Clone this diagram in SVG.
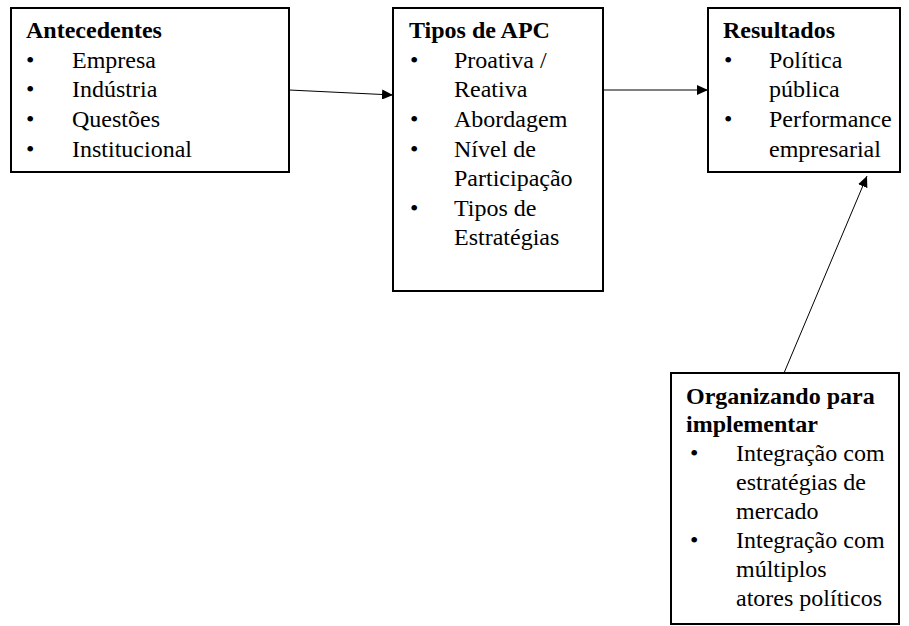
<svg xmlns="http://www.w3.org/2000/svg" width="909" height="626" viewBox="0 0 909 626">
<style>
.box{fill:#fff;stroke:#000;stroke-width:2}
text{font-family:"Liberation Serif","Times New Roman",serif;font-size:24px;fill:#000}
.h{font-weight:bold}
.conn{stroke:#000;stroke-width:1;fill:none;marker-end:url(#ah)}
</style>
<defs>
<marker id="ah" markerUnits="userSpaceOnUse" markerWidth="12" markerHeight="10" refX="11" refY="5" orient="auto">
<path d="M0,0 L11,5 L0,10 Z" fill="#000"/>
</marker>
</defs>
<rect width="909" height="626" fill="#fff"/>
<g id="antecedentes">
<rect class="box" x="11" y="8" width="278" height="164"/>
<text class="h" x="26" y="38">Antecedentes</text>
<text x="26" y="68">•</text><text x="72" y="68">Empresa</text>
<text x="26" y="97">•</text><text x="72" y="97">Indústria</text>
<text x="26" y="127">•</text><text x="72" y="127">Questões</text>
<text x="26" y="157">•</text><text x="72" y="157">Institucional</text>
</g>
<g id="tipos">
<rect class="box" x="393" y="8" width="210" height="283"/>
<text class="h" x="409" y="38">Tipos de APC</text>
<text x="410" y="68">•</text><text x="454" y="68">Proativa /</text>
<text x="454" y="97">Reativa</text>
<text x="410" y="127">•</text><text x="454" y="127">Abordagem</text>
<text x="410" y="157">•</text><text x="454" y="157">Nível de</text>
<text x="454" y="186">Participação</text>
<text x="410" y="216">•</text><text x="454" y="216">Tipos de</text>
<text x="454" y="245">Estratégias</text>
</g>
<g id="resultados">
<rect class="box" x="708" y="8" width="192" height="164"/>
<text class="h" x="723" y="38">Resultados</text>
<text x="724" y="68">•</text><text x="769" y="68">Política</text>
<text x="769" y="97">pública</text>
<text x="724" y="127">•</text><text x="769" y="127">Performance</text>
<text x="769" y="157">empresarial</text>
</g>
<g id="organizando">
<rect class="box" x="671" y="373" width="228" height="251"/>
<text class="h" x="686" y="404">Organizando para</text>
<text class="h" x="686" y="432">implementar</text>
<text x="690" y="461">•</text><text x="736" y="461">Integração com</text>
<text x="736" y="490">estratégias de</text>
<text x="736" y="519">mercado</text>
<text x="690" y="548">•</text><text x="736" y="548">Integração com</text>
<text x="736" y="577">múltiplos</text>
<text x="736" y="606">atores políticos</text>
</g>
<g id="connectors">
<line class="conn" x1="289" y1="90" x2="393" y2="95"/>
<line class="conn" x1="603" y1="90" x2="708" y2="90"/>
<line class="conn" x1="784" y1="373" x2="867" y2="176"/>
</g>
</svg>
